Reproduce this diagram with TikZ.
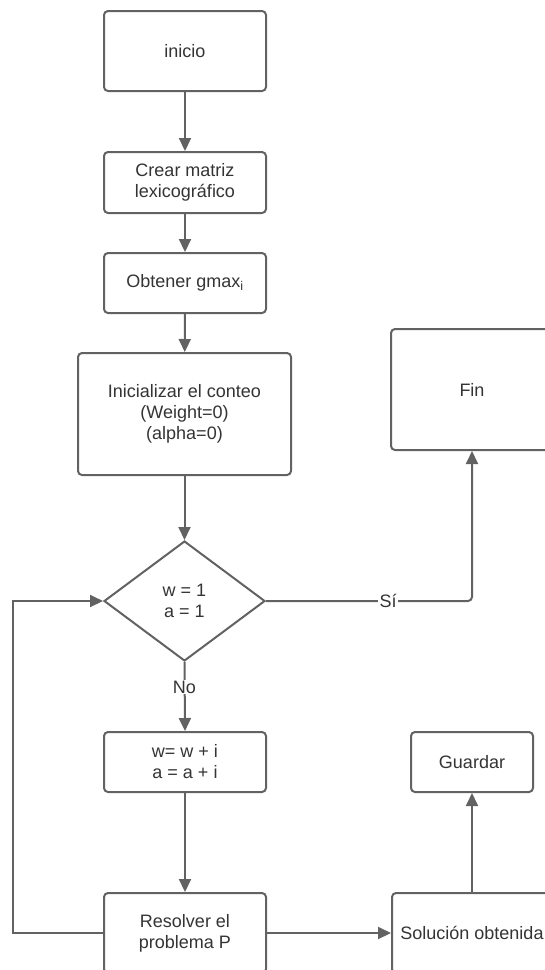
\documentclass[tikz,border=0pt]{standalone}
\usepackage{fontspec}
\setmainfont{Liberation Sans}
\usetikzlibrary{arrows.meta,shapes.geometric}
\definecolor{edgegray}{RGB}{98,98,98}
\definecolor{textgray}{RGB}{52,52,52}
\tikzset{
  base/.style={draw=edgegray, line width=2pt, fill=white, text=textgray,
    align=center, font=\fontsize{18}{21}\selectfont, inner sep=0pt},
  procbox/.style={base, rectangle, rounded corners=4pt},
  decision/.style={base, diamond, minimum width=161pt, minimum height=120pt},
  link/.style={draw=edgegray, line width=2pt,
    -{Triangle[length=13pt,width=12pt]}},
  plainlink/.style={draw=edgegray, line width=2pt},
  tag/.style={fill=white, text=textgray, inner sep=1pt,
    font=\fontsize{18}{21}\selectfont}
}
\begin{document}
\begin{tikzpicture}[x=1pt,y=-1pt]
  \useasboundingbox (0,0) rectangle (545,970);
  \clip (0,0) rectangle (545,970);

  % main column
  \node[procbox, minimum width=162pt, minimum height=80pt] (start) at (185,51) {inicio};
  \node[procbox, minimum width=162pt, minimum height=61pt] (matrix) at (185,182.5) {Crear matriz\\lexicográfico};
  \node[procbox, minimum width=162pt, minimum height=60pt] (gmax) at (185,283) {Obtener gmax\textsubscript{i}};
  \node[procbox, minimum width=213pt, minimum height=122pt] (init) at (184.5,414) {Inicializar el conteo\\(Weight=0)\\(alpha=0)};
  \node[decision] (test) at (184.5,601) {w = 1\\a = 1};
  \node[procbox, minimum width=162pt, minimum height=60pt] (step) at (185,762) {w= w + i\\a = a + i};
  \node[procbox, minimum width=162pt, minimum height=80pt] (solve) at (185,933) {Resolver el\\problema P};

  % right column
  \node[procbox, minimum width=162pt, minimum height=121pt] (stop) at (472,389.5) {Fin};
  \node[procbox, minimum width=122pt, minimum height=60pt] (save) at (472,762) {Guardar};
  \node[procbox, minimum width=160pt, minimum height=80pt] (found) at (472,933) {Solución obtenida};

  % loop corners and bends
  \coordinate (bendS) at (472,601);
  \coordinate (loopA) at (13,933);
  \coordinate (loopB) at (13,601);

  % connectors
  \draw[link] (start) -- (matrix);
  \draw[link] (matrix) -- (gmax);
  \draw[link] (gmax) -- (init);
  \draw[link] (init) -- (test);
  \draw[link, rounded corners=4pt] (test.east) -- (bendS) -- (stop.south);
  \node[tag] (yes) at (388,601) {Sí};
  \draw[link] (test.south) -- (step.north);
  \node[tag] (no) at (184.5,687) {No};
  \draw[link] (step) -- (solve);
  \draw[link] (solve.west) -- (loopA) -- (loopB) -- (test.west);
  \draw[link] (solve.east) -- (found.west);
  \draw[link] (found.north) -- (save.south);
\end{tikzpicture}
\end{document}
